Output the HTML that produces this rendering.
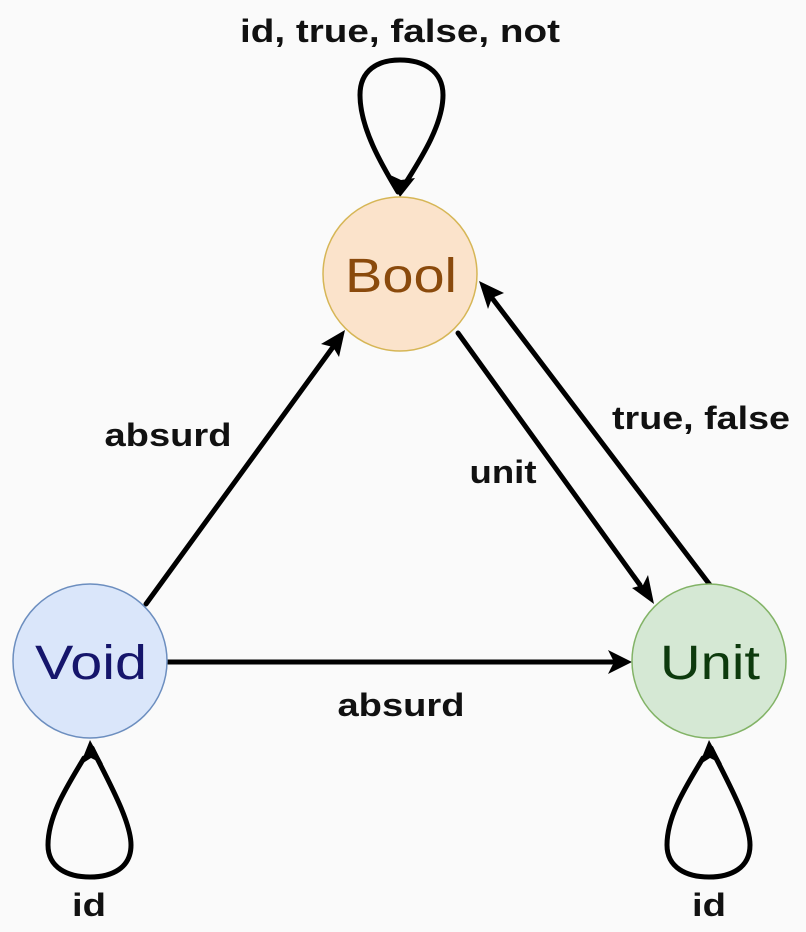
<!DOCTYPE html>
<html><head><meta charset="utf-8"><style>
html,body{margin:0;padding:0;background:#fafafa;}
svg{display:block;}
text{font-family:"Liberation Sans",Arial,sans-serif;}
.lb{font-weight:bold;font-size:32px;fill:#111;text-anchor:middle;}
.nd{font-size:48px;text-anchor:middle;}
</style></head><body>
<svg width="806" height="932" viewBox="0 0 806 932" xmlns="http://www.w3.org/2000/svg">
<rect width="806" height="932" fill="#fafafa"/>
<g stroke="#000" stroke-width="5" fill="none" stroke-linecap="round">
<path d="M398,192 C385,170 360,130 360,95 C360,70 378,60 400,60 C422,60 443,70 443,95 C443,125 420,160 405,184"/>
<path d="M92,748 C105,775 131,820 131,845 C131,868 112,877 90,877 C68,877 48,868 48,845 C48,815 68,785 84,758"/>
<path d="M711,748 C724,775 750,820 750,845 C750,868 731,877 709,877 C687,877 667,868 667,845 C667,815 687,785 703,758"/>
<line x1="146" y1="604" x2="333" y2="347"/>
<line x1="458" y1="333" x2="640" y2="585"/>
<line x1="710" y1="585" x2="492" y2="298"/>
<line x1="168" y1="662" x2="612" y2="662"/>
</g>
<g fill="#000">
<polygon points="400,197 388,174 401,180 415,178"/>
<polygon points="90,740 80,765 91,758 103,764"/>
<polygon points="709,740 699,765 710,758 722,764"/>
<polygon points="345,330 339,357 333,347 321,344"/>
<polygon points="654,604 632,588 643,585 648,575"/>
<polygon points="479,281 504,293 492,298 488,309"/>
<polygon points="632,662 608,650 614,662 608,674"/>
</g>
<circle cx="400" cy="274" r="77" fill="#fbe3cb" stroke="#d6b656" stroke-width="1.5"/>
<circle cx="90" cy="661" r="77" fill="#dae6fa" stroke="#6c8ebf" stroke-width="1.5"/>
<circle cx="709" cy="661" r="77" fill="#d5e8d4" stroke="#82b366" stroke-width="1.5"/>
<text class="nd" x="401" y="292" fill="#8a4a0c" textLength="112" lengthAdjust="spacingAndGlyphs">Bool</text>
<text class="nd" x="91" y="679" fill="#15156b" textLength="112" lengthAdjust="spacingAndGlyphs">Void</text>
<text class="nd" x="710" y="679" fill="#0d3a0d" textLength="100" lengthAdjust="spacingAndGlyphs">Unit</text>
<text class="lb" x="400" y="42" textLength="320" lengthAdjust="spacingAndGlyphs">id, true, false, not</text>
<text class="lb" x="168" y="446" textLength="127" lengthAdjust="spacingAndGlyphs">absurd</text>
<text class="lb" x="503" y="483" textLength="67" lengthAdjust="spacingAndGlyphs">unit</text>
<text class="lb" x="701" y="429" textLength="178" lengthAdjust="spacingAndGlyphs">true, false</text>
<text class="lb" x="401" y="716" textLength="127" lengthAdjust="spacingAndGlyphs">absurd</text>
<text class="lb" x="89" y="916" textLength="34" lengthAdjust="spacingAndGlyphs">id</text>
<text class="lb" x="709" y="916" textLength="34" lengthAdjust="spacingAndGlyphs">id</text>
</svg>
</body></html>
